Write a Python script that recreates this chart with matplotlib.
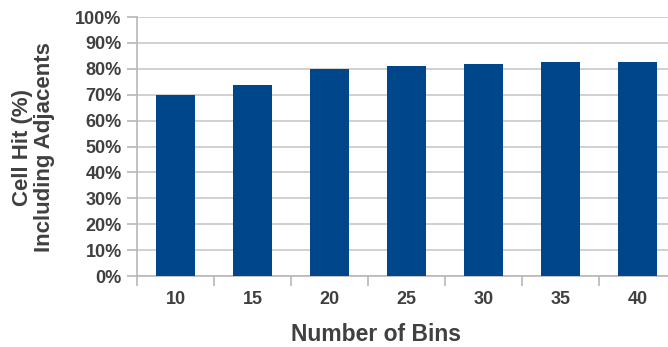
import matplotlib
matplotlib.use("Agg")
import matplotlib.pyplot as plt
from matplotlib.ticker import PercentFormatter, FixedLocator

plt.rcParams['font.family'] = ['Liberation Sans', 'DejaVu Sans']

bins = ['10', '15', '20', '25', '30', '35', '40']
cell_hit = [70.0, 73.8, 79.9, 81.1, 81.9, 82.6, 82.6]

bar_color = '#00468b'
text_color = '#404040'
grid_color = '#c8c8c8'

fig = plt.figure(figsize=(6.68, 3.47), dpi=100)
ax = fig.add_axes([0.2051, 0.2046, 1.012 - 0.2051, 0.951 - 0.2046])

x = range(len(bins))
ax.bar(x, cell_hit, width=0.5, color=bar_color, zorder=3)

ax.set_ylim(0, 100)
ax.set_xlim(-0.5, len(bins) - 0.5)
ax.set_yticks(range(0, 101, 10))
ax.yaxis.set_major_formatter(PercentFormatter(decimals=0))
ax.set_xticks(list(x))
ax.set_xticklabels(bins)
ax.xaxis.set_minor_locator(FixedLocator([i - 0.5 for i in range(len(bins) + 1)]))

ax.grid(axis='y', color=grid_color, linewidth=1.2, zorder=0)
for side in ['top', 'right']:
    ax.spines[side].set_visible(False)
for side in ['left', 'bottom']:
    ax.spines[side].set_color('#b8b8b8')
    ax.spines[side].set_linewidth(1.2)

ax.tick_params(axis='y', length=7, width=1.2, color='#b8b8b8', pad=4,
               labelsize=13, labelcolor=text_color)
ax.tick_params(axis='x', which='major', length=0, pad=11,
               labelsize=13, labelcolor=text_color)
ax.tick_params(axis='x', which='minor', length=7, width=1.2, color='#b8b8b8')
for lbl in ax.get_xticklabels() + ax.get_yticklabels():
    lbl.set_fontweight('bold')

fig.text(0.563, 0.016, 'Number of Bins', ha='center', va='baseline',
         fontsize=16.5, fontweight='bold', color=text_color)
fig.text(0.050, 0.575, 'Cell Hit (%)\nIncluding Adjacents', rotation=90,
         ha='center', va='center', fontsize=16, fontweight='bold',
         color=text_color, linespacing=1.05)

fig.savefig('out.png', dpi=100)
